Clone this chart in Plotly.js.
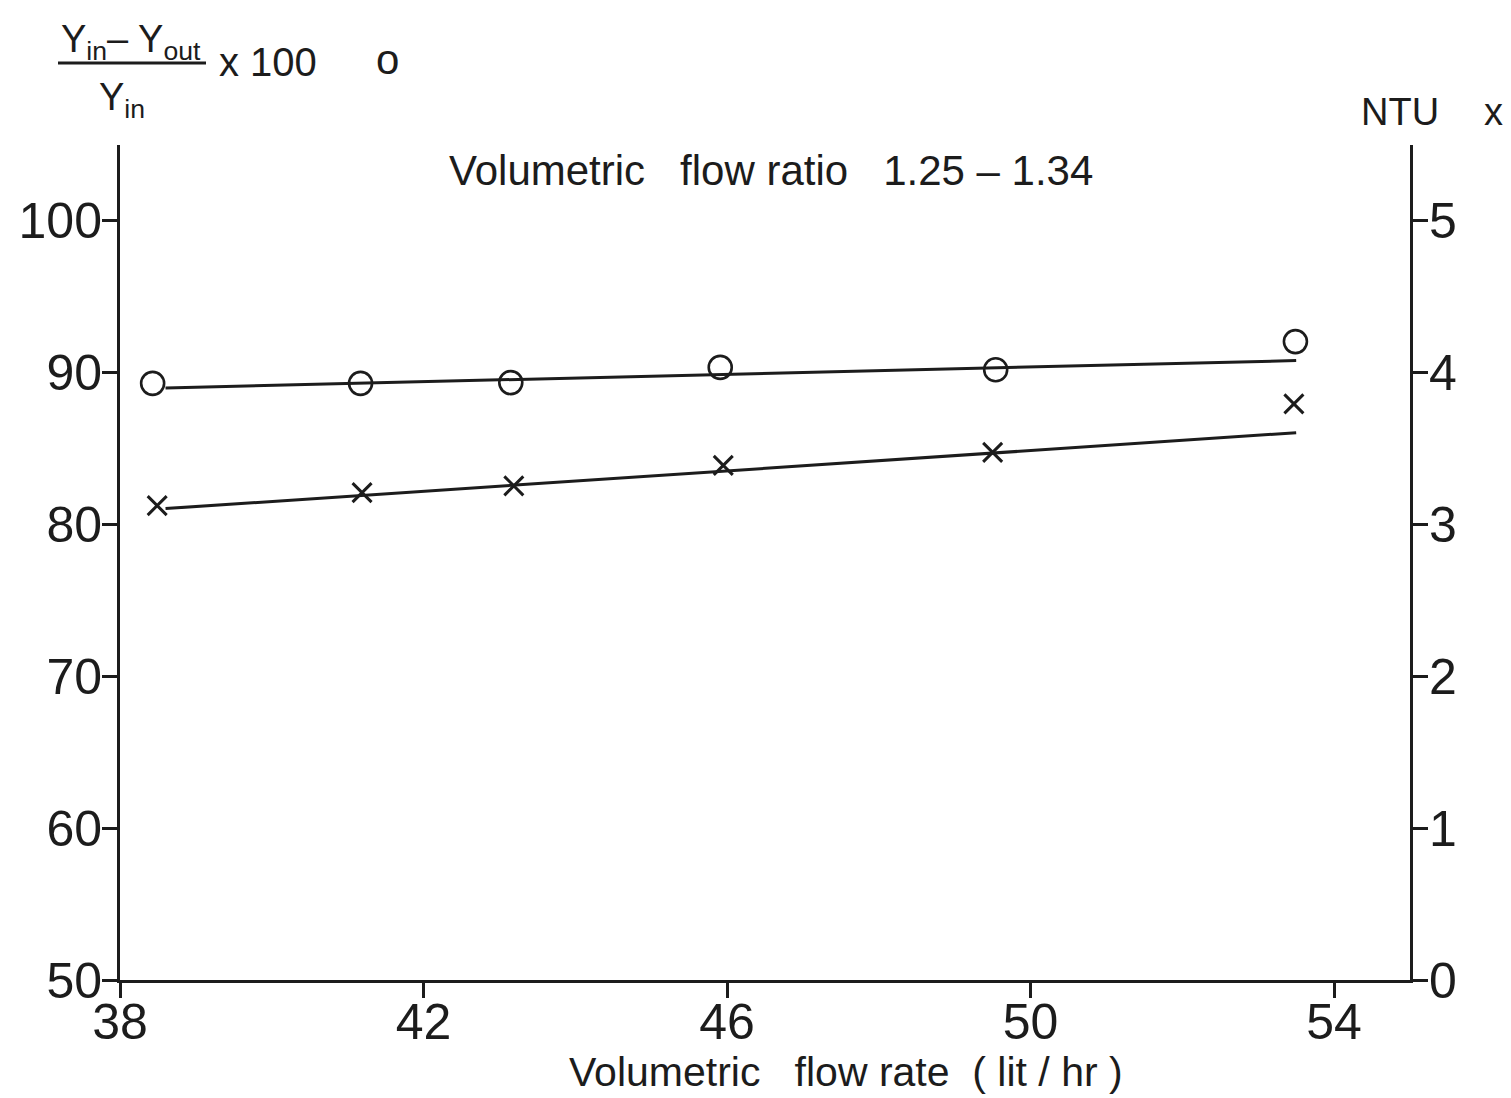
<!DOCTYPE html>
<html>
<head>
<meta charset="utf-8">
<script src="https://cdn.plot.ly/plotly-3.0.1.min.js"></script>
<style>html,body{margin:0;padding:0;background:#fff;}#chart{width:1511px;height:1098px;}</style>
</head>
<body>
<div id="chart"></div>
<script>
// Data
const circleX = [38.43, 41.17, 43.15, 45.91, 49.54, 53.49];
const circleY = [89.3, 89.3, 89.35, 90.35, 90.2, 92.05];   // (Yin-Yout)/Yin x 100
const crossX = [38.49, 41.19, 43.19, 45.95, 49.50, 53.47];
const crossNTU = [3.125, 3.21, 3.255, 3.39, 3.475, 3.795];  // NTU
const fitX = [38.6, 53.5];
const circleFit = [89.0, 90.8];
const crossFit = [3.105, 3.605];
const xTicks = [38, 42, 46, 50, 54];
const leftTicks = [50, 60, 70, 80, 90, 100];
const rightTicks = [0, 1, 2, 3, 4, 5];

const ink = '#1c1c1c';
const FONT = 'Liberation Sans, Arial, sans-serif';

// plot area in pixels: left 120, right 1410, top 145, bottom 980
const L = 120, R = 1410, T = 145, B = 980;
const px = v => (v - L) / (R - L);
const py = v => (B - v) / (B - T);

const traces = [
  {x: circleX, y: circleY, mode: 'markers', type: 'scatter', yaxis: 'y',
   marker: {symbol: 'circle-open', size: 23, color: ink, line: {width: 2.6, color: ink}}, name: 'efficiency'},
  {x: fitX, y: circleFit, mode: 'lines', type: 'scatter', yaxis: 'y',
   line: {color: ink, width: 3}, name: 'efficiency fit'},
  {x: crossX, y: crossNTU, mode: 'markers', type: 'scatter', yaxis: 'y2',
   marker: {symbol: 'x-thin-open', size: 19, color: ink, line: {width: 3, color: ink}}, name: 'NTU'},
  {x: fitX, y: crossFit, mode: 'lines', type: 'scatter', yaxis: 'y2',
   line: {color: ink, width: 3}, name: 'NTU fit'}
];

const axisCommon = {
  showline: true, linewidth: 3, linecolor: ink, showgrid: false, zeroline: false,
  ticks: 'outside', ticklen: 15, tickwidth: 3, tickcolor: ink,
  tickfont: {family: FONT, size: 50, color: ink}
};

const layout = {
  width: 1511, height: 1098,
  margin: {l: L, r: 1511 - R, t: T, b: 1098 - B},
  paper_bgcolor: '#ffffff', plot_bgcolor: '#ffffff',
  showlegend: false,
  font: {family: FONT, color: ink},
  xaxis: Object.assign({}, axisCommon, {range: [38, 55], tickmode: 'array', tickvals: xTicks, ticklabelstandoff: -19}),
  yaxis: Object.assign({}, axisCommon, {range: [50, 105], tickmode: 'array', tickvals: leftTicks, ticklabelstandoff: -10}),
  yaxis2: Object.assign({}, axisCommon, {range: [0, 5.5], tickmode: 'array', tickvals: rightTicks,
    overlaying: 'y', side: 'right', anchor: 'x', ticklabelstandoff: -9}),
  annotations: [
    {xref: 'paper', yref: 'paper', x: px(771), y: py(170), text: 'Volumetric&nbsp;&nbsp;&nbsp;flow ratio&nbsp;&nbsp;&nbsp;1.25 – 1.34',
     showarrow: false, font: {size: 42, color: ink}, xanchor: 'center', yanchor: 'middle'},
    {xref: 'paper', yref: 'paper', x: px(846), y: py(1097), text: 'Volumetric&nbsp;&nbsp;&nbsp;flow rate&nbsp; (&nbsp;lit / hr )',
     showarrow: false, font: {size: 41, color: ink}, xanchor: 'center', yanchor: 'bottom'},
    {xref: 'paper', yref: 'paper', x: px(131), y: py(42), text: 'Y<sub>in</sub>– Y<sub>out</sub>',
     showarrow: false, font: {size: 38, color: ink}, xanchor: 'center', yanchor: 'middle'},
    {xref: 'paper', yref: 'paper', x: px(122), y: py(100), text: 'Y<sub>in</sub>',
     showarrow: false, font: {size: 38, color: ink}, xanchor: 'center', yanchor: 'middle'},
    {xref: 'paper', yref: 'paper', x: px(268), y: py(62), text: 'x 100',
     showarrow: false, font: {size: 40, color: ink}, xanchor: 'center', yanchor: 'middle'},
    {xref: 'paper', yref: 'paper', x: px(387), y: py(60), text: 'o',
     showarrow: false, font: {size: 42, color: ink}, xanchor: 'center', yanchor: 'middle'},
    {xref: 'paper', yref: 'paper', x: px(1400), y: py(112), text: 'NTU',
     showarrow: false, font: {size: 38, color: ink}, xanchor: 'center', yanchor: 'middle'},
    {xref: 'paper', yref: 'paper', x: px(1493), y: py(112), text: 'x',
     showarrow: false, font: {size: 38, color: ink}, xanchor: 'center', yanchor: 'middle'}
  ],
  shapes: [
    {type: 'line', xref: 'paper', yref: 'paper', x0: px(58), x1: px(206), y0: py(63), y1: py(63),
     line: {color: ink, width: 3}}
  ]
};

Plotly.newPlot('chart', traces, layout, {staticPlot: true, displayModeBar: false});
</script>
</body>
</html>
